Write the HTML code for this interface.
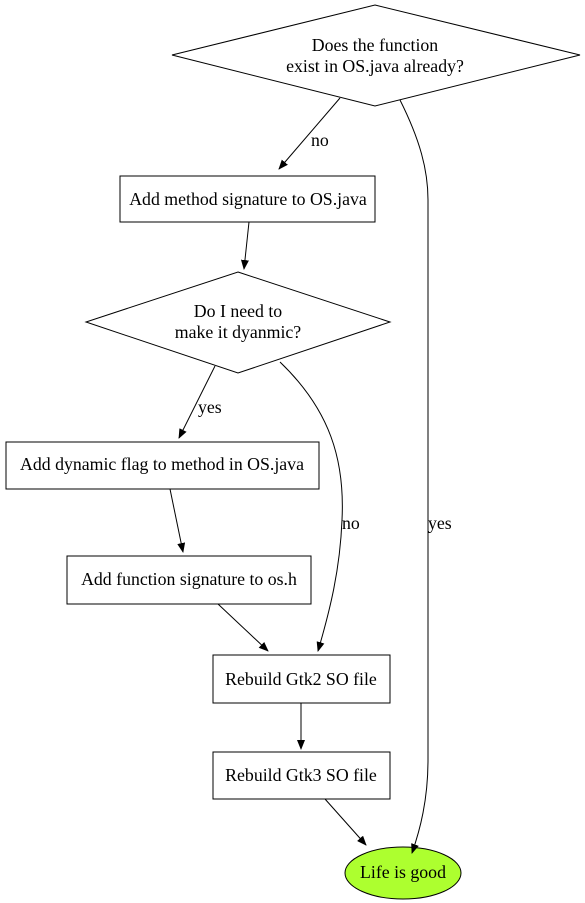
<!DOCTYPE html>
<html><head><meta charset="utf-8"><style>html,body{margin:0;padding:0;background:#fff}svg{display:block}text{font-family:"Liberation Serif",serif;font-size:17.8px;fill:#000}</style></head>
<body>
<svg width="585" height="903" viewBox="0 0 585 903" xmlns="http://www.w3.org/2000/svg">
<defs><marker id="a" markerWidth="10" markerHeight="8" refX="9" refY="4" orient="auto" markerUnits="userSpaceOnUse"><path d="M0,0 L10,4 L0,8 z" fill="#000"/></marker></defs>
<g fill="none" stroke="#000" stroke-width="1">
<polygon points="375,5 580,55 375,106 172,55" fill="#fff"/>
<rect x="120" y="176" width="255" height="46" fill="#fff"/>
<polygon points="238,272 390,322 238,373 86,322" fill="#fff"/>
<rect x="6" y="442" width="313" height="47" fill="#fff"/>
<rect x="67" y="556" width="244" height="48" fill="#fff"/>
<rect x="213" y="655" width="177" height="48" fill="#fff"/>
<rect x="213" y="752" width="177" height="47" fill="#fff"/>
<ellipse cx="403" cy="873" rx="58" ry="26" fill="#adff2f"/>
<path d="M340,98 L279,169" marker-end="url(#a)"/>
<path d="M400,100 C420,140 428,170 428,200 L428,760 C428,800 420,830 412,853" marker-end="url(#a)"/>
<path d="M249,222 L244,269" marker-end="url(#a)"/>
<path d="M215,366 L179,438" marker-end="url(#a)"/>
<path d="M280,362 C330,410 345,460 342,520 C340,570 330,610 318,651" marker-end="url(#a)"/>
<path d="M170,489 L183,552" marker-end="url(#a)"/>
<path d="M218,604 L268,651" marker-end="url(#a)"/>
<path d="M301,703 L301,749" marker-end="url(#a)"/>
<path d="M325,799 L366,845" marker-end="url(#a)"/>
</g>
<g text-anchor="middle">
<text x="375" y="51">Does the function</text>
<text x="375" y="72">exist in OS.java already?</text>
<text x="248" y="205">Add method signature to OS.java</text>
<text x="238" y="317">Do I need to</text>
<text x="238" y="338">make it dyanmic?</text>
<text x="162" y="470">Add dynamic flag to method in OS.java</text>
<text x="189" y="585">Add function signature to os.h</text>
<text x="301" y="685">Rebuild Gtk2 SO file</text>
<text x="301" y="781">Rebuild Gtk3 SO file</text>
<text x="403" y="878">Life is good</text>
</g>
<text x="311" y="146">no</text>
<text x="428" y="529">yes</text>
<text x="198" y="413">yes</text>
<text x="342" y="529">no</text>
</svg>
</body></html>
